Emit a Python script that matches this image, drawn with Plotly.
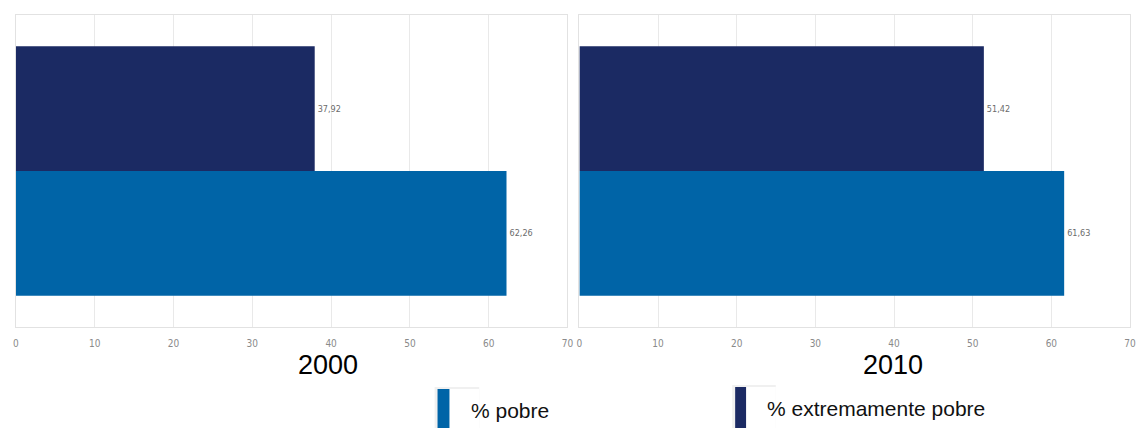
import plotly.graph_objects as go

# ---- data ----
years = ["2000", "2010"]
series_names = ["% pobre", "% extremamente pobre"]
pobre = [62.26, 61.63]
extremamente_pobre = [37.92, 51.42]
tick_vals = [0, 10, 20, 30, 40, 50, 60, 70]

colors = {"% pobre": "#0064a7", "% extremamente pobre": "#1b2a63"}

W, H = 1137, 428
fig = go.Figure()

label_font = dict(size=9, color="#6b6b6b",
                  family="Liberation Sans Narrow, DejaVu Sans Condensed, Liberation Sans")

axes = [("x", "y"), ("x2", "y2")]
for i, yr in enumerate(years):
    xa, ya = axes[i]
    fig.add_trace(go.Bar(
        y=[yr], x=[pobre[i]], orientation="h", name=series_names[0],
        marker=dict(color=colors[series_names[0]], line=dict(width=0)),
        texttemplate="%{x:.2f}", textposition="outside", cliponaxis=False,
        textfont=label_font, xaxis=xa, yaxis=ya, showlegend=False, hoverinfo="x"))
    fig.add_trace(go.Bar(
        y=[yr], x=[extremamente_pobre[i]], orientation="h", name=series_names[1],
        marker=dict(color=colors[series_names[1]], line=dict(width=0)),
        texttemplate="%{x:.2f}", textposition="outside", cliponaxis=False,
        textfont=label_font, xaxis=xa, yaxis=ya, showlegend=False, hoverinfo="x"))

ydom = [1 - 327 / H, 1 - 15 / H]
xdoms = [[13 / W, 569 / W], [581 / W, 1136 / W]]

common_x = dict(range=[0, 70], tickvals=tick_vals, showgrid=True, gridcolor="#e9e9e9",
                gridwidth=1, zeroline=False, showline=True, linecolor="#e2e2e2",
                linewidth=1, mirror=True, ticks="outside", ticklen=7, tickcolor="rgba(0,0,0,0)",
                tickfont=dict(size=10, color="#8a8a8a",
                              family="Liberation Sans Narrow, DejaVu Sans Condensed, Liberation Sans"))
common_y = dict(showticklabels=False, showgrid=False, zeroline=False, showline=True,
                linecolor="#e2e2e2", linewidth=1, mirror=True, ticks="", domain=ydom)

fig.update_layout(
    width=W, height=H,
    margin=dict(l=0, r=0, t=0, b=0),
    paper_bgcolor="white", plot_bgcolor="white",
    barmode="group", bargap=0.2, bargroupgap=0,
    separators=",.",
    xaxis=dict(domain=xdoms[0], anchor="y", **common_x),
    yaxis=dict(anchor="x", **common_y),
    xaxis2=dict(domain=xdoms[1], anchor="y2", **common_x),
    yaxis2=dict(anchor="x2", **common_y),
    font=dict(family="Liberation Sans, Arial, sans-serif"),
)

# panel titles
title_x = [328 / W, 897 / W]
for i, yr in enumerate(years):
    fig.add_annotation(text=yr, x=title_x[i], y=1 - 365 / H, xref="paper", yref="paper",
                       xanchor="center", yanchor="middle", showarrow=False,
                       font=dict(size=27, color="#000000", family="Liberation Sans, Arial"))

# custom legend
leg = [
    (series_names[0], 438, 450, 389, 470, 410),
    (series_names[1], 738, 749, 387, 768, 408),
]
for name, x0, x1, ytop, tx, ty in leg:
    fig.add_shape(type="rect", xref="paper", yref="paper",
                  x0=(x0 - 3) / W, x1=(x1 + 30) / W, y0=0, y1=1 - (ytop - 2) / H,
                  fillcolor="rgba(0,0,0,0.06)", line=dict(width=0), layer="above")
    fig.add_shape(type="rect", xref="paper", yref="paper",
                  x0=x1 / W, x1=(x1 + 30) / W, y0=0, y1=1 - ytop / H,
                  fillcolor="white", line=dict(width=0), layer="above")
    fig.add_shape(type="rect", xref="paper", yref="paper",
                  x0=x0 / W, x1=x1 / W, y0=0, y1=1 - ytop / H,
                  fillcolor=colors[name], line=dict(width=0), layer="above")
    fig.add_annotation(text=name, x=tx / W, y=1 - ty / H, xref="paper", yref="paper",
                       xanchor="left", yanchor="middle", showarrow=False,
                       font=dict(size=21, color="#111111", family="Liberation Sans, Arial"))

fig.write_html("out.html", config={"displayModeBar": False},
               post_script="document.body.style.margin='0';document.body.style.overflow='hidden';")
